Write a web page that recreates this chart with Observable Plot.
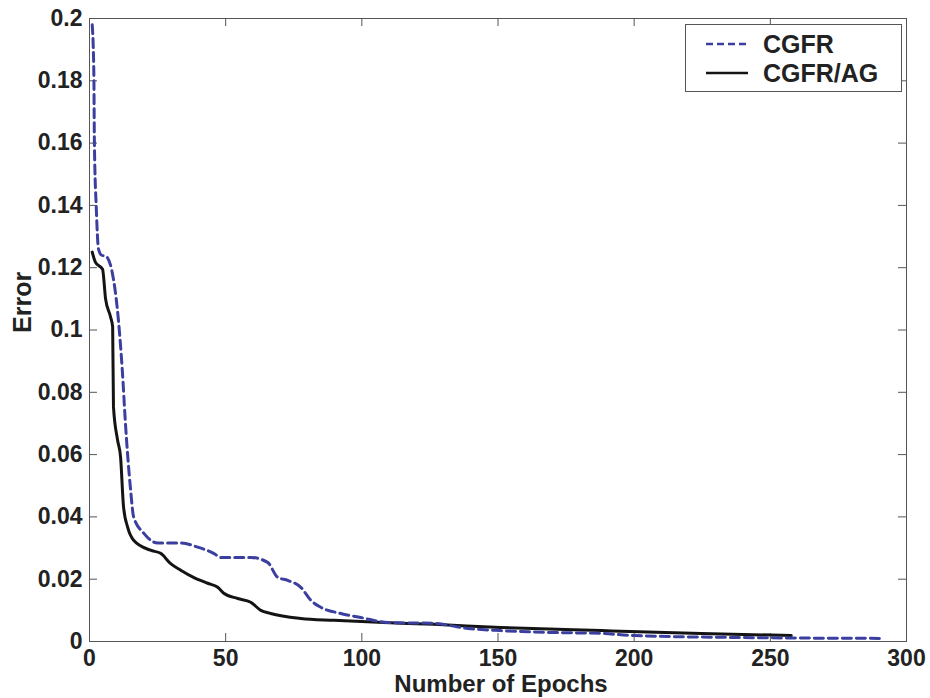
<!DOCTYPE html>
<html>
<head>
<meta charset="utf-8">
<script src="https://cdn.jsdelivr.net/npm/d3@7"></script>
<script src="https://cdn.jsdelivr.net/npm/@observablehq/plot@0.6"></script>
<style>
  html, body { margin: 0; padding: 0; background: #fff; }
  #wrap { position: relative; width: 930px; height: 698px; font-family: "Liberation Sans", Arial, sans-serif; }
  #legend { position: absolute; left: 685px; top: 24px; width: 217px; height: 68px; border: 1px solid #555; background: #fff; box-sizing: border-box; }
  #legend svg { position: absolute; left: 0; top: 0; }
</style>
</head>
<body>
<div id="wrap"></div>
<script>
// ---- data ----
const seriesNames = ["CGFR", "CGFR/AG"];
const epochsCGFR = [1, 1.6, 1.8, 2.5, 3.3, 4.5, 6, 8.8, 10.7, 12.1, 13.2, 15.1, 16.2, 19.9, 25, 33.5, 39.7, 45.6, 48.2, 59.2, 65.4, 69.1, 72.8, 77.6, 81.3, 84.9, 92.3, 99.6, 109.6, 126.5, 139, 151, 169.5, 188, 200, 236.8, 291];
const errorCGFR  = [0.198, 0.182, 0.160, 0.139, 0.126, 0.1240, 0.1237, 0.1163, 0.1024, 0.0863, 0.070, 0.0486, 0.040, 0.0348, 0.0316, 0.0316, 0.0303, 0.0283, 0.027, 0.027, 0.0254, 0.0206, 0.0196, 0.0174, 0.0132, 0.011, 0.009, 0.0077, 0.0061, 0.0058, 0.0042, 0.0035, 0.0029, 0.0026, 0.0019, 0.0013, 0.001];
const epochsAG = [1, 2.2, 4.8, 5.9, 7.7, 8.5, 8.8, 10.3, 11.4, 12.5, 14, 16.2, 22.4, 26.1, 29.8, 33.5, 38.2, 43.4, 47.1, 49.3, 54.4, 59.2, 62.9, 66.5, 77.6, 89.7, 108, 126.5, 151, 188, 224.6, 257.7];
const errorAG  = [0.125, 0.1217, 0.1195, 0.11, 0.1043, 0.101, 0.0754, 0.0647, 0.0593, 0.0432, 0.0367, 0.0325, 0.0293, 0.0283, 0.025, 0.0229, 0.0206, 0.0187, 0.0174, 0.0155, 0.0138, 0.0126, 0.010, 0.009, 0.0074, 0.0068, 0.0061, 0.0055, 0.0045, 0.0035, 0.0026, 0.0019];
const xTicks = [0, 50, 100, 150, 200, 250, 300];
const yTicks = [0, 0.02, 0.04, 0.06, 0.08, 0.1, 0.12, 0.14, 0.16, 0.18, 0.2];
const xLabel = "Number of Epochs";
const yLabel = "Error";

const cgfr = epochsCGFR.map((e, i) => ({epoch: e, error: errorCGFR[i]}));
const ag = epochsAG.map((e, i) => ({epoch: e, error: errorAG[i]}));

const blue = "#3b3f9f";
const black = "#141414";
const axisColor = "#555";
const W = 930, H = 698, mL = 89, mR = 24, mT = 18, mB = 57;
const fw = W - mL - mR, fh = H - mT - mB;
const tick = 8;

const chart = Plot.plot({
  width: W, height: H,
  marginLeft: mL, marginRight: mR, marginTop: mT, marginBottom: mB,
  style: {fontFamily: "'Liberation Sans', Arial, sans-serif", background: "#fff", color: "#222"},
  x: {domain: [0, 300]},
  y: {domain: [0, 0.2]},
  marks: [
    Plot.frame({stroke: axisColor, strokeWidth: 1}),
    // inward ticks on all four sides
    Plot.tickX(xTicks, {x: d => d, stroke: axisColor, insetTop: fh - tick}),
    Plot.tickX(xTicks, {x: d => d, stroke: axisColor, insetBottom: fh - tick}),
    Plot.tickY(yTicks, {y: d => d, stroke: axisColor, insetRight: fw - tick}),
    Plot.tickY(yTicks, {y: d => d, stroke: axisColor, insetLeft: fw - tick}),
    Plot.axisX(xTicks, {tickSize: 0, tickPadding: 8, fontSize: 23, fontWeight: "bold", label: null, tickFormat: d => String(d), fill: "#222"}),
    Plot.axisY(yTicks, {tickSize: 0, tickPadding: 7, fontSize: 23, fontWeight: "bold", label: null, tickFormat: d => String(d), fill: "#222"}),
    Plot.line(ag, {x: "epoch", y: "error", stroke: black, strokeWidth: 3, curve: "monotone-x"}),
    Plot.line(cgfr, {x: "epoch", y: "error", stroke: blue, strokeWidth: 3, strokeDasharray: "9,5", curve: "monotone-x"}),
    Plot.text([xLabel], {text: d => d, frameAnchor: "bottom", dy: 50, dx: 3, fontSize: 24, fontWeight: "bold", fill: "#222"}),
    Plot.text([yLabel], {text: d => d, frameAnchor: "left", dx: -67, dy: 3, rotate: -90, fontSize: 25, fontWeight: "bold", fill: "#222"})
  ]
});

const wrap = document.getElementById("wrap");
wrap.appendChild(chart);

// legend overlay
const legend = document.createElement("div");
legend.id = "legend";
const styles = [{stroke: blue, dash: "7,4"}, {stroke: black, dash: null}];
let svg = `<svg width="217" height="68" xmlns="http://www.w3.org/2000/svg">`;
seriesNames.forEach((name, i) => {
  const cy = 19 + i * 29;
  svg += `<line x1="20" x2="62" y1="${cy}" y2="${cy}" stroke="${styles[i].stroke}" stroke-width="2.5" ${styles[i].dash ? `stroke-dasharray="${styles[i].dash}"` : ""}/>`;
  svg += `<text x="77" y="${cy + 9}" font-family="'Liberation Sans', Arial, sans-serif" font-weight="bold" font-size="25" fill="#222">${name}</text>`;
});
svg += `</svg>`;
legend.innerHTML = svg;
wrap.appendChild(legend);
</script>
</body>
</html>
